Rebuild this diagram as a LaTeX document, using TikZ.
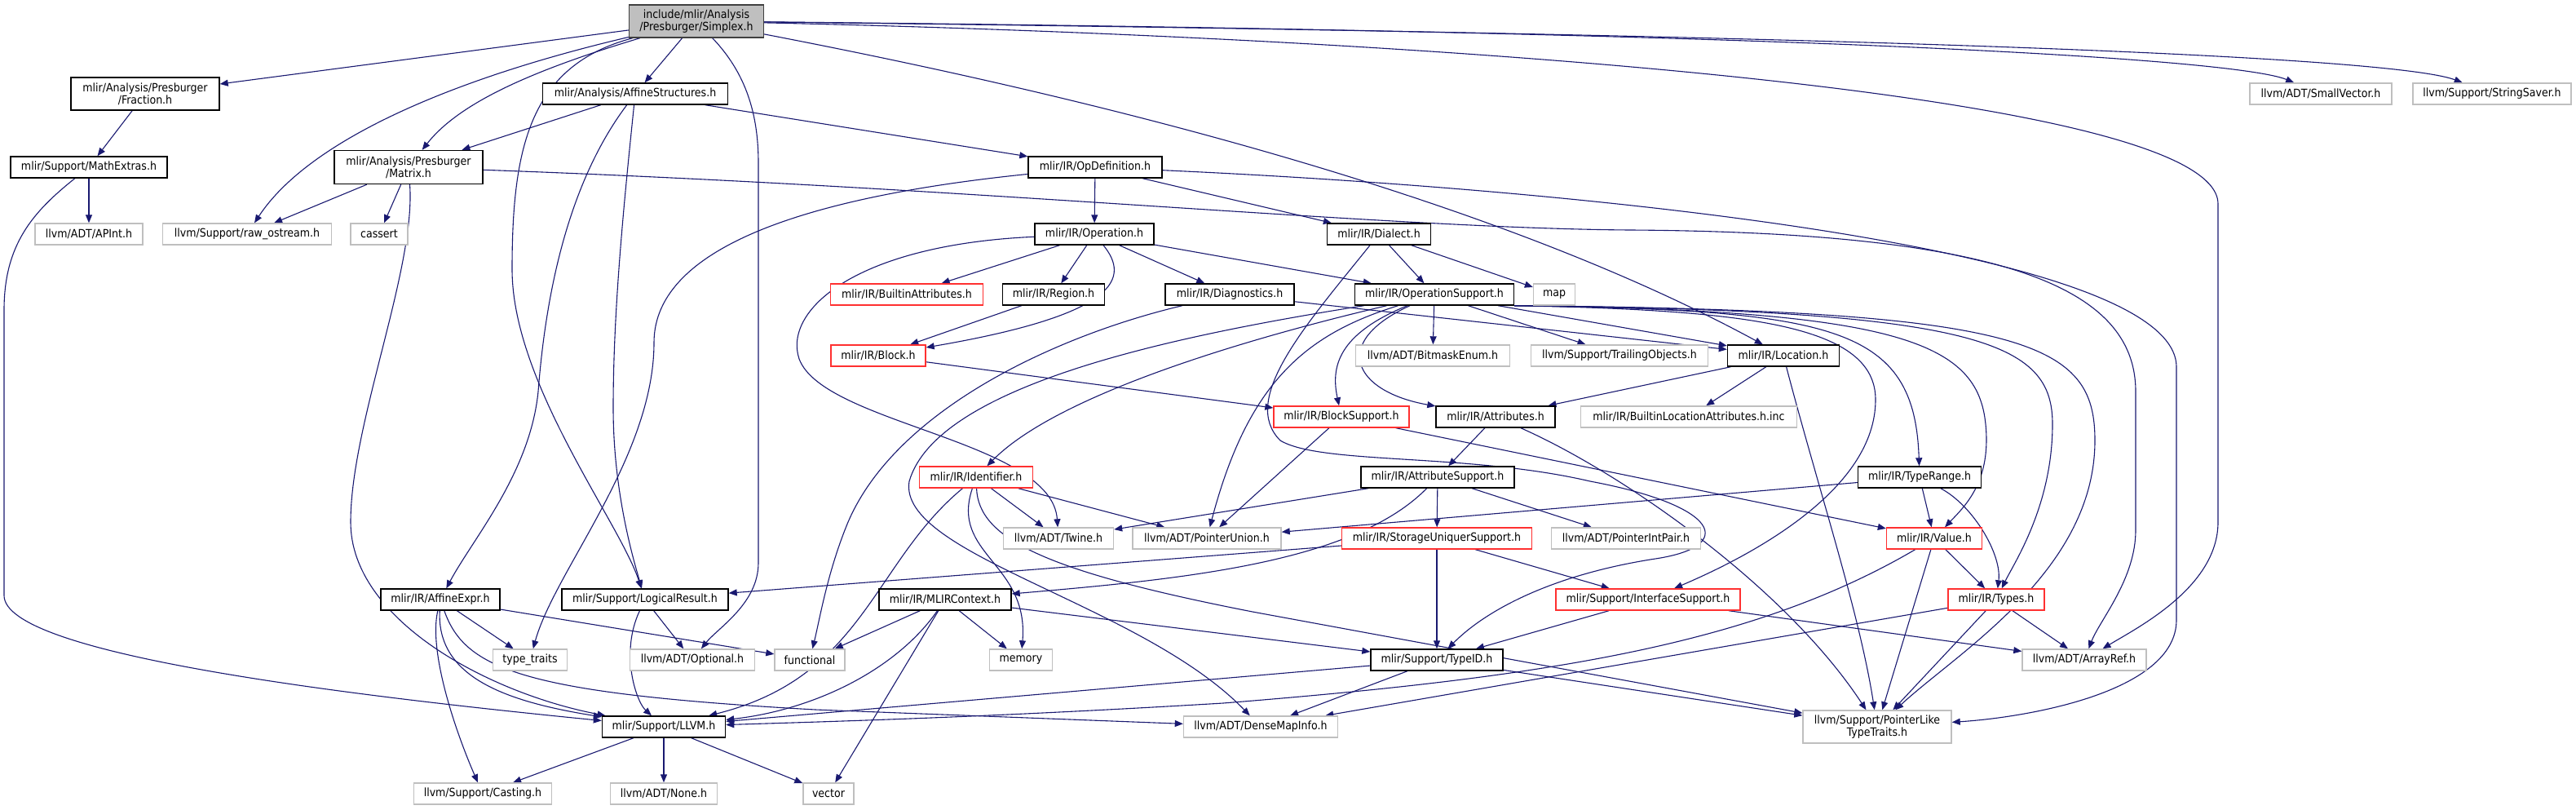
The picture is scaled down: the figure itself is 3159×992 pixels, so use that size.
\documentclass[tikz,border=0pt]{standalone}
\usepackage{fontspec}
\setmainfont{DejaVu Sans Condensed}
\usetikzlibrary{arrows.meta,backgrounds}
\definecolor{edgeblue}{HTML}{191970}
\definecolor{extgray}{HTML}{BFBFBF}
\definecolor{truncred}{HTML}{FF3030}

\begin{document}
\begin{tikzpicture}[x=0.5pt, y=-0.5pt,
		hdr/.style={draw=black, line width=0.7pt, fill=white, inner sep=0pt, minimum height=13pt, align=center, font=\fontsize{7}{7.6}\selectfont},
		ext/.style={hdr, draw=extgray},
		trunc/.style={hdr, draw=truncred},
		top/.style={hdr, draw=black!75, fill=extgray},
		dep/.style={draw=edgeblue, line width=0.55pt, -{Triangle[length=5pt,width=4pt]}}]
		\useasboundingbox (0,0) rectangle (3159,992);

		% row 0
		\node[top, minimum width=82.5pt, minimum height=20pt] (simplex) at (854,26) {include/mlir/Analysis\\/Presburger/Simplex.h};

		% row 1
		\node[hdr, minimum width=91pt, minimum height=20pt] (fraction) at (178,115) {mlir/Analysis/Presburger\\/Fraction.h};
		\node[hdr, minimum width=113.5pt] (affstruct) at (779,115) {mlir/Analysis/AffineStructures.h};
		\node[ext, minimum width=87pt] (smallvec) at (2846,115) {llvm/ADT/SmallVector.h};
		\node[ext, minimum width=97pt] (stringsaver) at (3056,115) {llvm/Support/StringSaver.h};

		% row 2
		\node[hdr, minimum width=96pt] (mathextras) at (109,205) {mlir/Support/MathExtras.h};
		\node[hdr, minimum width=91pt, minimum height=20.5pt] (matrix) at (501,205) {mlir/Analysis/Presburger\\/Matrix.h};
		\node[hdr, minimum width=82pt] (opdef) at (1343,205) {mlir/IR/OpDefinition.h};

		% row 3
		\node[ext, minimum width=66pt] (apint) at (109,287) {llvm/ADT/APInt.h};
		\node[ext, minimum width=103.5pt] (rawostream) at (303,287) {llvm/Support/raw\_ostream.h};
		\node[ext, minimum width=35pt] (cassert) at (465,287) {cassert};
		\node[hdr, minimum width=73pt] (operation) at (1342,287) {mlir/IR/Operation.h};
		\node[hdr, minimum width=63.5pt] (dialect) at (1691,287) {mlir/IR/Dialect.h};

		% row 4
		\node[trunc, minimum width=93.5pt] (builtinattr) at (1112,361) {mlir/IR/BuiltinAttributes.h};
		\node[hdr, minimum width=62.5pt] (region) at (1292,361) {mlir/IR/Region.h};
		\node[hdr, minimum width=79pt] (diagnostics) at (1508,361) {mlir/IR/Diagnostics.h};
		\node[hdr, minimum width=97.5pt] (opsupport) at (1759,361) {mlir/IR/OperationSupport.h};
		\node[ext, minimum width=25.5pt] (map) at (1906,361) {map};

		% row 5
		\node[trunc, minimum width=58pt] (block) at (1077,436) {mlir/IR/Block.h};
		\node[ext, minimum width=94.5pt] (bitmask) at (1757,436) {llvm/ADT/BitmaskEnum.h};
		\node[ext, minimum width=108.5pt] (trailing) at (1986,436) {llvm/Support/TrailingObjects.h};
		\node[hdr, minimum width=68.5pt] (location) at (2187,436) {mlir/IR/Location.h};

		% row 6
		\node[trunc, minimum width=83pt] (blocksupport) at (1645,511) {mlir/IR/BlockSupport.h};
		\node[hdr, minimum width=73pt] (attributes) at (1834,511) {mlir/IR/Attributes.h};
		\node[ext, minimum width=132.5pt] (builtinloc) at (2071,511) {mlir/IR/BuiltinLocationAttributes.h.inc};

		% row 7
		\node[trunc, minimum width=69.5pt] (identifier) at (1197,585) {mlir/IR/Identifier.h};
		\node[hdr, minimum width=94pt] (attrsupport) at (1763,585) {mlir/IR/AttributeSupport.h};
		\node[hdr, minimum width=75.5pt] (typerange) at (2354,585) {mlir/IR/TypeRange.h};

		% row 8
		\node[ext, minimum width=67.5pt] (twine) at (1298,660) {llvm/ADT/Twine.h};
		\node[ext, minimum width=91pt] (pointerunion) at (1480,660) {llvm/ADT/PointerUnion.h};
		\node[trunc, minimum width=116.5pt] (storageuniquer) at (1762,660) {mlir/IR/StorageUniquerSupport.h};
		\node[ext, minimum width=91.5pt] (pointerintpair) at (1994,660) {llvm/ADT/PointerIntPair.h};
		\node[trunc, minimum width=58.5pt] (value) at (2372,660) {mlir/IR/Value.h};

		% row 9
		\node[hdr, minimum width=73pt] (affineexpr) at (540,735) {mlir/IR/AffineExpr.h};
		\node[hdr, minimum width=102pt] (logicalresult) at (791,735) {mlir/Support/LogicalResult.h};
		\node[hdr, minimum width=81pt] (mlircontext) at (1159,735) {mlir/IR/MLIRContext.h};
		\node[trunc, minimum width=113pt] (interfacesupport) at (2021,735) {mlir/Support/InterfaceSupport.h};
		\node[trunc, minimum width=59pt] (types) at (2448,735) {mlir/IR/Types.h};

		% row 10
		\node[ext, minimum width=45.5pt] (typetraits) at (650,809) {type\_traits};
		\node[ext, minimum width=76.5pt] (optional) at (849,809) {llvm/ADT/Optional.h};
		\node[ext, minimum width=43pt] (functional) at (993,809) {functional};
		\node[ext, minimum width=38.5pt] (memory) at (1252,809) {memory};
		\node[hdr, minimum width=81pt] (typeid) at (1762,809) {mlir/Support/TypeID.h};
		\node[ext, minimum width=76pt] (arrayref) at (2556,809) {llvm/ADT/ArrayRef.h};

		% row 11
		\node[hdr, minimum width=75.5pt] (llvm) at (814,891) {mlir/Support/LLVM.h};
		\node[ext, minimum width=94.5pt] (densemap) at (1546,891) {llvm/ADT/DenseMapInfo.h};
		\node[ext, minimum width=91pt, minimum height=20pt] (pointerlike) at (2302,891) {llvm/Support/PointerLike\\TypeTraits.h};

		% row 12
		\node[ext, minimum width=84.5pt] (casting) at (592,973) {llvm/Support/Casting.h};
		\node[ext, minimum width=65.5pt] (none) at (814,973) {llvm/ADT/None.h};
		\node[ext, minimum width=31pt] (vector) at (1016,973) {vector};

		\begin{scope}[on background layer]
		% Simplex.h
		\draw[dep] (simplex) -- (fraction);
		\draw[dep] (simplex) .. controls (560,95) and (380,170) .. (rawostream);
		\draw[dep] (simplex) .. controls (640,90) and (560,130) .. (matrix);
		\draw[dep] (simplex) -- (affstruct);
		\draw[dep] (simplex) .. controls (650,80) and (628,180) .. (628,330) .. controls (628,470) and (760,640) .. (logicalresult);
		\draw[dep] (simplex) .. controls (915,90) and (930,140) .. (930,200) -- (930,690) .. controls (930,740) and (880,770) .. (optional);
		\draw[dep] (simplex) .. controls (1500,150) and (1900,280) .. (location);
		\draw[dep] (simplex) .. controls (2300,40) and (2750,75) .. (smallvec);
		\draw[dep] (simplex) .. controls (2500,45) and (2950,75) .. (stringsaver);
		\draw[dep] (simplex) .. controls (1700,45) and (2720,110) .. (2720,250) -- (2720,640) .. controls (2720,720) and (2620,770) .. (arrayref);

		% Presburger
		\draw[dep] (fraction) -- (mathextras);
		\draw[dep] (mathextras) -- (apint);
		\draw[dep] (mathextras) .. controls (40,260) and (5,300) .. (5,380) -- (5,730) .. controls (5,800) and (400,850) .. (llvm);
		\draw[dep] (matrix) -- (rawostream);
		\draw[dep] (matrix) -- (cassert);
		\draw[dep] (matrix) .. controls (510,330) and (430,520) .. (430,640) .. controls (430,760) and (600,850) .. (llvm);
		\draw[dep] (matrix) .. controls (1200,230) and (1700,280) .. (2000,282) .. controls (2450,285) and (2619,350) .. (2619,480) -- (2619,650) .. controls (2619,710) and (2575,760) .. (arrayref);

		% AffineStructures.h
		\draw[dep] (affstruct) -- (matrix);
		\draw[dep] (affstruct) -- (opdef);
		\draw[dep] (affstruct) .. controls (700,220) and (670,350) .. (660,480) .. controls (650,580) and (580,660) .. (affineexpr);
		\draw[dep] (affstruct) .. controls (765,250) and (752,380) .. (752,500) .. controls (752,600) and (775,680) .. (logicalresult);

		% OpDefinition.h
		\draw[dep] (opdef) -- (operation);
		\draw[dep] (opdef) -- (dialect);
		\draw[dep] (opdef) .. controls (1000,240) and (802,300) .. (802,420) .. controls (802,560) and (680,700) .. (typetraits);
		\draw[dep] (opdef) .. controls (1900,230) and (2669,300) .. (2669,450) -- (2669,760) .. controls (2669,850) and (2480,880) .. (pointerlike);

		% Operation.h
		\draw[dep] (operation) -- (builtinattr);
		\draw[dep] (operation) -- (region);
		\draw[dep] (operation) .. controls (1385,340) and (1375,385) .. (block);
		\draw[dep] (operation) -- (diagnostics);
		\draw[dep] (operation) -- (opsupport);
		\draw[dep] (operation) .. controls (1050,300) and (960,380) .. (980,440) .. controls (1010,520) and (1290,540) .. (twine);
		\draw[dep] (region) -- (block);
		\draw[dep] (block) -- (blocksupport);

		% Dialect.h, Diagnostics.h
		\draw[dep] (dialect) -- (opsupport);
		\draw[dep] (dialect) -- (map);
		\draw[dep] (dialect) .. controls (1600,400) and (1520,490) .. (1570,540) .. controls (1620,570) and (1800,555) .. (1950,590) .. controls (2110,620) and (2130,670) .. (2030,685) .. controls (1900,705) and (1820,750) .. (typeid);
		\draw[dep] (diagnostics) -- (location);
		\draw[dep] (diagnostics) .. controls (1300,410) and (1100,500) .. (1040,640) .. controls (1015,700) and (1005,760) .. (functional);

		% OperationSupport.h
		\draw[dep] (opsupport) -- (bitmask);
		\draw[dep] (opsupport) -- (trailing);
		\draw[dep] (opsupport) -- (location);
		\draw[dep] (opsupport) .. controls (1640,410) and (1632,450) .. (blocksupport);
		\draw[dep] (opsupport) .. controls (1630,420) and (1660,480) .. (attributes);
		\draw[dep] (opsupport) .. controls (1550,410) and (1300,480) .. (identifier);
		\draw[dep] (opsupport) .. controls (1600,410) and (1530,470) .. (pointerunion);
		\draw[dep] (opsupport) .. controls (1450,410) and (1150,470) .. (1115,590) .. controls (1100,680) and (1400,740) .. (densemap);
		\draw[dep] (opsupport.south east) .. controls (2150,380) and (2300,400) .. (2300,490) .. controls (2300,600) and (2150,680) .. (interfacesupport);
		\draw[dep] (opsupport.south east) .. controls (2250,380) and (2348,400) .. (typerange);
		\draw[dep] (opsupport.south east) .. controls (2330,380) and (2425,420) .. (2435,520) .. controls (2442,590) and (2410,620) .. (value);
		\draw[dep] (opsupport.south east) .. controls (2430,380) and (2517,420) .. (2517,520) .. controls (2517,620) and (2470,690) .. (types);
		\draw[dep] (opsupport.south east) .. controls (2490,380) and (2569,420) .. (2569,540) .. controls (2569,700) and (2400,800) .. (pointerlike);

		% Location.h, BlockSupport.h, Attributes.h
		\draw[dep] (location) -- (attributes);
		\draw[dep] (location) -- (builtinloc);
		\draw[dep] (location) .. controls (2230,600) and (2280,750) .. (pointerlike);
		\draw[dep] (blocksupport) -- (pointerunion);
		\draw[dep] (blocksupport) -- (value);
		\draw[dep] (attributes) -- (attrsupport);
		\draw[dep] (attributes) .. controls (1990,580) and (2190,720) .. (pointerlike);

		% Identifier.h, AttributeSupport.h
		\draw[dep] (identifier) -- (twine);
		\draw[dep] (identifier) -- (pointerunion);
		\draw[dep] (identifier) .. controls (1165,680) and (1262,690) .. (memory);
		\draw[dep] (identifier) .. controls (1200,660) and (1280,700) .. (1536,750) -- (pointerlike);
		\draw[dep] (identifier) .. controls (1070,690) and (1060,830) .. (llvm);
		\draw[dep] (attrsupport) -- (twine);
		\draw[dep] (attrsupport) -- (pointerintpair);
		\draw[dep] (attrsupport) -- (storageuniquer);
		\draw[dep] (attrsupport) .. controls (1660,690) and (1450,710) .. (mlircontext);

		% StorageUniquerSupport.h, TypeRange.h, Value.h, Types.h
		\draw[dep] (storageuniquer) -- (logicalresult);
		\draw[dep] (storageuniquer) -- (typeid);
		\draw[dep] (storageuniquer) -- (interfacesupport);
		\draw[dep] (typerange) -- (pointerunion);
		\draw[dep] (typerange) -- (value);
		\draw[dep] (typerange) .. controls (2420,620) and (2455,680) .. (types);
		\draw[dep] (value) -- (types);
		\draw[dep] (value) -- (pointerlike);
		\draw[dep] (value) .. controls (2150,790) and (1900,830) .. (1500,862) .. controls (1200,880) and (1000,885) .. (llvm);
		\draw[dep] (types) -- (arrayref);
		\draw[dep] (types) -- (pointerlike);
		\draw[dep] (types) -- (densemap);

		% MLIRContext.h, InterfaceSupport.h, TypeID.h
		\draw[dep] (mlircontext) -- (functional);
		\draw[dep] (mlircontext) -- (memory);
		\draw[dep] (mlircontext) -- (vector);
		\draw[dep] (mlircontext) -- (typeid);
		\draw[dep] (mlircontext) .. controls (1100,820) and (1000,870) .. (llvm);
		\draw[dep] (interfacesupport) -- (typeid);
		\draw[dep] (interfacesupport) -- (arrayref);
		\draw[dep] (typeid) -- (llvm);
		\draw[dep] (typeid) -- (densemap);
		\draw[dep] (typeid) -- (pointerlike);

		% AffineExpr.h, LogicalResult.h, LLVM.h
		\draw[dep] (affineexpr) -- (typetraits);
		\draw[dep] (affineexpr) -- (functional);
		\draw[dep] (affineexpr) .. controls (535,830) and (620,860) .. (llvm);
		\draw[dep] (affineexpr) .. controls (525,800) and (560,900) .. (casting);
		\draw[dep] (affineexpr) .. controls (570,820) and (640,850) .. (1000,870) -- (densemap);
		\draw[dep] (logicalresult) .. controls (760,800) and (780,860) .. (llvm);
		\draw[dep] (logicalresult) -- (optional);
		\draw[dep] (llvm) -- (casting);
		\draw[dep] (llvm) -- (none);
		\draw[dep] (llvm) -- (vector);
		\end{scope}

	\end{tikzpicture}
\end{document}
